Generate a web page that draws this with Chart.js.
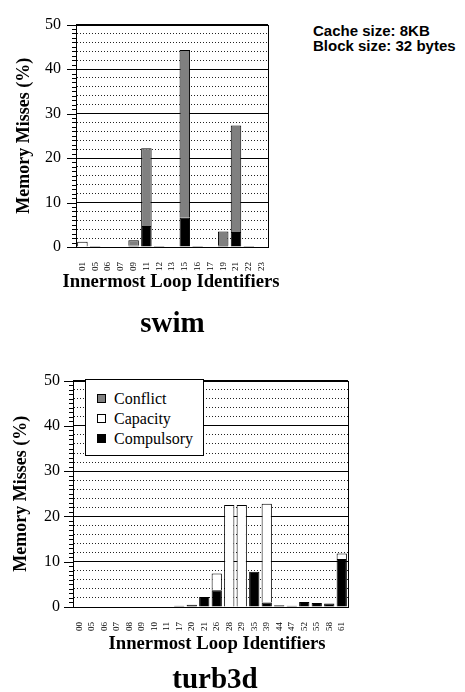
<!DOCTYPE html>
<html>
<head>
<meta charset="utf-8">
<script src="https://cdn.jsdelivr.net/npm/chart.js@4/dist/chart.umd.min.js"></script>
<style>
  html, body { margin: 0; padding: 0; background: #fff; }
  body { width: 465px; height: 692px; position: relative; overflow: hidden; }
  .cv { position: absolute; }
  .big { position: absolute; font-family: 'Liberation Serif', 'Times New Roman', serif; font-weight: bold; font-size: 29px; line-height: 30px; text-align: center; color: #000; }
  .xt { position: absolute; font-family: 'Liberation Serif', 'Times New Roman', serif; font-weight: bold; font-size: 18.7px; line-height: 22px; text-align: center; color: #000; white-space: nowrap; }
  .note { position: absolute; left: 313px; top: 23px; font-family: 'Liberation Sans', Arial, sans-serif; font-weight: bold; font-size: 15px; line-height: 15px; color: #000; }
  .legend { position: absolute; left: 85px; top: 379px; width: 117px; height: 75px; border: 1px solid #000; background: #fff; z-index: 5;
            font-family: 'Liberation Serif', 'Times New Roman', serif; font-size: 16px; color: #000; }
  .legend div { position: absolute; left: 11px; height: 20px; line-height: 20px; white-space: nowrap; }
  .legend span.sw { display: inline-block; width: 7px; height: 7px; border: 1px solid #000; margin-right: 8px; vertical-align: 1px; }
</style>
</head>
<body>
<div class="cv" style="left:0;top:0;width:282px;height:300px;"><canvas id="c1"></canvas></div>
<div class="cv" style="left:0;top:358px;width:360px;height:300px;"><canvas id="c2"></canvas></div>
<div class="xt" style="left:0;top:270px;width:342px;">Innermost Loop Identifiers</div>
<div class="xt" style="left:0;top:632px;width:434px;">Innermost Loop Identifiers</div>
<div class="big" style="left:0;top:307px;width:345px;">swim</div>
<div class="big" style="left:0;top:663px;width:430px;">turb3d</div>
<div class="note">Cache size: 8KB<br>Block size: 32 bytes</div>
<div class="legend">
  <div style="top:9px;"><span class="sw" style="background:#808080"></span>Conflict</div>
  <div style="top:29px;"><span class="sw" style="background:#fff"></span>Capacity</div>
  <div style="top:49px;"><span class="sw" style="background:#000"></span>Compulsory</div>
</div>
<script>
// ---- data ----
const swimLoops = ['01','05','06','07','09','11','12','13','15','16','17','19','21','22','23'];
const swimCompulsory = [0, 0.2, 0, 0, 0.3, 4.7, 0.2, 0, 6.6, 0.2, 0, 0.4, 3.4, 0.2, 0.1];
const swimCapacity   = [1.2, 0, 0, 0, 0, 0, 0, 0, 0, 0, 0, 0, 0, 0, 0];
const swimConflict   = [0, 0, 0, 0, 1.2, 17.5, 0, 0, 37.7, 0, 0, 3.1, 23.9, 0, 0];

const turbLoops = ['00','05','06','07','08','09','10','11','17','20','21','26','28','29','35','39','44','47','52','55','58','61'];
const turbCompulsory = [0, 0, 0, 0, 0, 0, 0, 0, 0.3, 0.5, 2.2, 3.7, 0, 0, 7.8, 1.0, 0.4, 0.3, 1.1, 0.9, 0.8, 10.6];
const turbCapacity   = [0, 0, 0, 0, 0, 0, 0, 0, 0, 0, 0, 3.7, 22.5, 22.5, 0, 21.8, 0, 0, 0, 0, 0, 1.2];
const turbConflict   = [0, 0, 0, 0, 0, 0, 0, 0, 0, 0, 0, 0, 0, 0, 0, 0, 0, 0, 0, 0, 0, 0];

const yTickValues = [0, 10, 20, 30, 40, 50];

const SERIF = "'Liberation Serif', 'Times New Roman', serif";

const frame = {
  id: 'frame',
  afterDraw(chart) {
    const {ctx, chartArea: a} = chart;
    const y = chart.scales.y;
    ctx.save();
    ctx.strokeStyle = '#000';
    ctx.lineWidth = 1;
    ctx.strokeRect(Math.round(a.left) + 0.5, Math.round(a.top) + 0.5, Math.round(a.right - a.left), Math.round(a.bottom - a.top));
    ctx.beginPath();
    y.ticks.forEach(t => {
      const py = Math.round(y.getPixelForValue(t.value)) + 0.5;
      const len = (t.value % 10 === 0) ? 9 : 4;
      ctx.moveTo(Math.round(a.left) - len, py);
      ctx.lineTo(Math.round(a.left), py);
    });
    ctx.stroke();
    ctx.restore();
  }
};

const bw = c => (c.raw ? 1 : 0);

function makeChart(id, labels, comp, cap, conf, opt) {
  return new Chart(document.getElementById(id), {
    type: 'bar',
    data: {
      labels: labels,
      datasets: [
        { label: 'Compulsory', data: comp, backgroundColor: '#000', borderColor: '#000', borderWidth: bw },
        { label: 'Capacity', data: cap, backgroundColor: '#fff', borderColor: '#000', borderWidth: bw },
        { label: 'Conflict', data: conf, backgroundColor: '#808080', borderColor: '#000', borderWidth: bw }
      ]
    },
    plugins: [frame],
    options: {
      responsive: true,
      maintainAspectRatio: false,
      animation: false,
      datasets: { bar: { barPercentage: 0.82, categoryPercentage: 1.0 } },
      layout: { padding: { left: 0, right: opt.padRight, top: opt.padTop, bottom: 0 } },
      plugins: { legend: { display: false }, tooltip: { enabled: false } },
      scales: {
        x: {
          stacked: true,
          grid: { display: false },
          border: { display: true, color: '#000', width: 1 },
          afterFit: s => { s.height = opt.xHeight; },
          ticks: { autoSkip: false, minRotation: 90, maxRotation: 90, padding: 7, color: '#000',
                   font: { family: SERIF, size: 9 } },
          title: { display: false }
        },
        y: {
          stacked: true,
          min: 0, max: 50,
          afterFit: s => { s.width = opt.yWidth; },
          afterBuildTicks: s => {
            const t = [];
            for (let v = 0; v <= 50; v += 1) t.push({ value: v });
            s.ticks = t;
          },
          ticks: { autoSkip: false, padding: opt.yLabelPad, color: '#000', font: { family: SERIF, size: 16 },
                   callback: v => yTickValues.includes(v) ? String(v) : '' },
          grid: {
            drawTicks: false,
            lineWidth: 1,
            color: c => {
              if (!c.tick) return '#000';
              const v = c.tick.value;
              if (v % 10 === 0) return '#000';
              if (v % 2 === 0) return '#222';
              return 'rgba(0,0,0,0)';
            }
          },
          border: {
            display: true, color: '#000', width: 1,
            dash: c => (c.tick && c.tick.value % 10 !== 0) ? [1, 2] : []
          },
          title: { display: true, text: 'Memory Misses (%)', color: '#000',
                   font: { family: SERIF, size: 18, weight: 'bold', lineHeight: 1.2 }, padding: { top: opt.yTitlePad, bottom: 0 } }
        }
      }
    }
  });
}

makeChart('c1', swimLoops, swimCompulsory, swimCapacity, swimConflict,
  { padRight: 14, padTop: 12, xHeight: 53, yWidth: 76, yLabelPad: 15, yTitlePad: 14 });
makeChart('c2', turbLoops, turbCompulsory, turbCapacity, turbConflict,
  { padRight: 12, padTop: 13, xHeight: 51, yWidth: 73, yLabelPad: 13, yTitlePad: 11 });
</script>
</body>
</html>
